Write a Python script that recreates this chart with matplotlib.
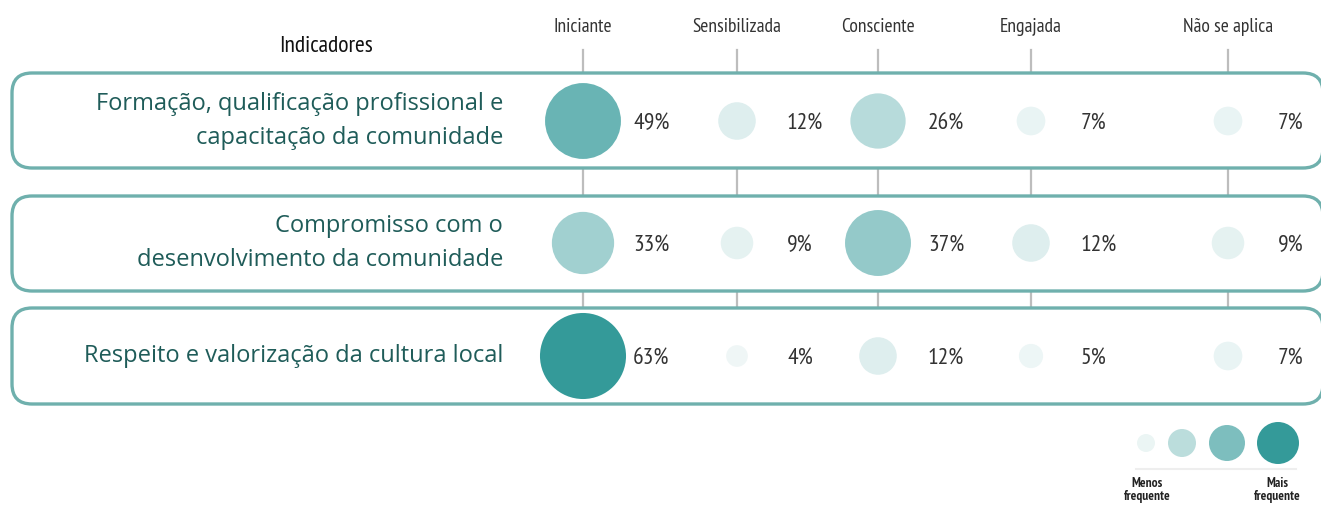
import numpy as np
import matplotlib
matplotlib.use("Agg")
import matplotlib.pyplot as plt
from matplotlib.patches import Circle, FancyBboxPatch
from matplotlib.colors import LinearSegmentedColormap

# data
niveis = ["Iniciante", "Sensibilizada", "Consciente", "Engajada", "Não se aplica"]
indicadores = [
    "Formação, qualificação profissional e\ncapacitação da comunidade",
    "Compromisso com o\ndesenvolvimento da comunidade",
    "Respeito e valorização da cultura local",
]
formacao = [49, 12, 26, 7, 7]
compromisso = [33, 9, 37, 12, 9]
respeito = [63, 4, 12, 5, 7]
valores = [formacao, compromisso, respeito]

NARROW = ["PT Sans Narrow", "DejaVu Sans"]
LABEL = ["Open Sans", "DejaVu Sans"]
TEAL = "#6fb0ad"
cmap = LinearSegmentedColormap.from_list("teal", ["#f4f9f9", "#349a99"])

fig = plt.figure(figsize=(13.21, 5.05), dpi=100)
ax = fig.add_axes([0, 0, 1, 1])
ax.set_xlim(0, 1321)
ax.set_ylim(505, 0)
ax.axis("off")

col_x = [583, 737, 878, 1031, 1228]
row_y = [121, 243, 356]
box_top = [73, 196, 308]
box_h = [95, 95, 96]

# cabeçalhos das colunas + traços
for x, nome in zip(col_x, niveis):
    ax.text(x, 27, nome, ha="center", va="center", fontsize=14,
            family=NARROW, color="#333333")
    for y0, y1 in [(50, 73), (168, 196), (291, 308)]:
        ax.plot([x, x], [y0, y1], color="#bdbdbd", lw=1.6, zorder=1)

ax.text(326, 46, "Indicadores", ha="center", va="center", fontsize=17,
        family=NARROW, color="#111111")

vmax = 63
for i, (nome, vals) in enumerate(zip(indicadores, valores)):
    box = FancyBboxPatch((12, box_top[i]), 1311, box_h[i],
                         boxstyle="round,pad=0,rounding_size=20",
                         fc="white", ec=TEAL, lw=2.4, zorder=2)
    ax.add_patch(box)
    ax.text(503, row_y[i], nome, ha="right", va="center", fontsize=17,
            family=LABEL, color="#1f5c59", linespacing=1.5, zorder=3)
    for x, v in zip(col_x, vals):
        r = 5.42 * np.sqrt(v)
        c = cmap((v / vmax) ** 1.3)
        ax.add_patch(Circle((x, row_y[i]), r, fc=c, ec="none", zorder=3))
        ax.text(x + 50, row_y[i] + 3, f"{v}%", ha="left", va="center",
                fontsize=17, family=NARROW, color="#333333", zorder=4)

# legenda
leg_x = [1146, 1182, 1227, 1278]
leg_r = [9, 14, 18, 21]
leg_v = [0.05, 0.3, 0.62, 1.0]
for x, r, t in zip(leg_x, leg_r, leg_v):
    ax.add_patch(Circle((x, 443), r, fc=cmap(t), ec="none"))
ax.plot([1136, 1296], [469, 469], color="#eeeeee", lw=1.5)
ax.text(1147, 490, "Menos\nfrequente", ha="center", va="center", fontsize=9.5,
        family=NARROW, weight="bold", color="#222222", linespacing=1.0)
ax.text(1277, 490, "Mais\nfrequente", ha="center", va="center", fontsize=9.5,
        family=NARROW, weight="bold", color="#222222", linespacing=1.0)

fig.savefig("out.png", dpi=100)
